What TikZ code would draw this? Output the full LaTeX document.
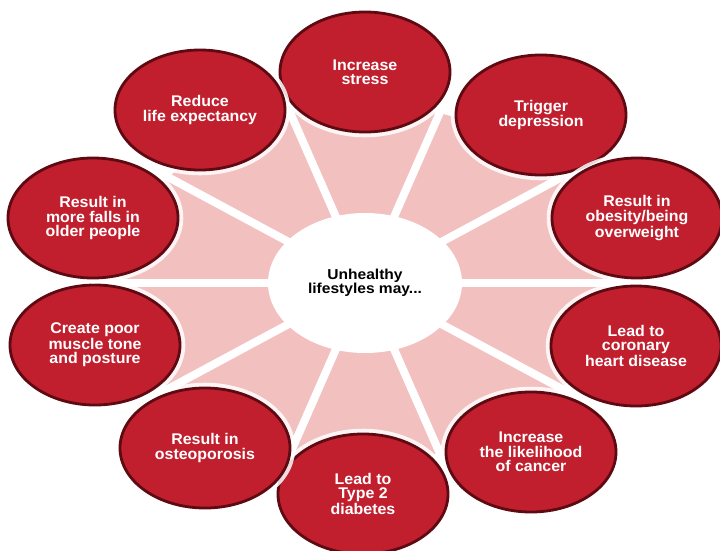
\documentclass[tikz,border=0pt]{standalone}
\usepackage{fontspec}
\setmainfont{Liberation Sans}
\newfontfamily\labelfont{Liberation Sans}[FakeStretch=1.03]
\newfontfamily\hubfont{Liberation Sans}[FakeStretch=1.08]
\usetikzlibrary{shapes.geometric}
\definecolor{ballred}{RGB}{193,31,46}
\definecolor{ballrim}{RGB}{95,10,18}
\definecolor{wedgepink}{RGB}{243,192,192}
\tikzset{
  ball/.style={ellipse, fill=ballred, draw=ballrim, line width=2.4pt,
    minimum width=5.1cm, minimum height=3.6cm, inner sep=0pt, align=center,
    text=white, font=\labelfont\bfseries\fontsize{13.2}{12.3}\selectfont,
    preaction={draw=white, line width=9pt, opacity=0.85}},
  hub/.style={ellipse, fill=white, minimum width=5.82cm, minimum height=4.2cm,
    inner sep=0pt, align=center, text=black,
    font=\hubfont\bfseries\fontsize{12.3}{11.8}\selectfont},
  spoke/.style={white, line width=6.8pt}
}
\begin{document}
\begin{tikzpicture}[x=0.03cm, y=-0.03cm]
\useasboundingbox (0,0) rectangle (720,550);
\fill[white] (0,0) rectangle (720,550);
\coordinate (c) at (365,283);
% pink backdrop behind the ring of outcomes
\fill[wedgepink] (c) ellipse [x radius=7.3cm, y radius=5.35cm];
% white separators between the wedges
\foreach \a in {0,36,...,324}{
  \path (c) ++(\a:300 and 222) coordinate (s\a);
  \draw[spoke] (c) -- (s\a);
}
\node[hub] (hub) at (c) {Unhealthy\\lifestyles may...};
% outcomes
\node[ball] (stress)   at (365,72)  {Increase\\stress};
\node[ball] (depress)  at (541,115) {Trigger\\depression};
\node[ball] (obesity)  at (637,218) {Result in\\obesity/being\\overweight};
\node[ball] (heart)    at (636,346) {Lead to\\coronary\\heart disease};
\node[ball] (cancer)   at (531,452) {Increase\\the likelihood\\of cancer};
\node[ball] (diabetes) at (363,494) {Lead to\\Type 2\\diabetes};
\node[ball] (osteo)    at (205,448) {Result in\\osteoporosis};
\node[ball] (muscle)   at (95,345)  {Create poor\\muscle tone\\and posture};
\node[ball] (falls)    at (93,218)  {Result in\\more falls in\\older people};
\node[ball] (life)     at (200,110) {Reduce\\life expectancy};
\end{tikzpicture}
\end{document}
